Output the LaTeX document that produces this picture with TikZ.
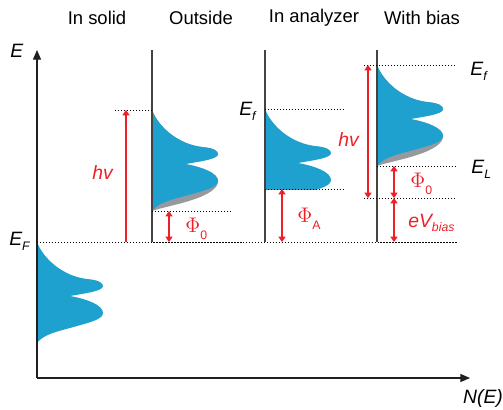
\documentclass[tikz,border=0pt]{standalone}
\usepackage{fontspec}
\setmainfont{Liberation Sans}
\usetikzlibrary{arrows.meta}

\definecolor{dosblue}{RGB}{31,161,207}
\definecolor{dosgray}{RGB}{152,153,156}
\definecolor{levred}{RGB}{237,32,40}
\definecolor{axiscol}{RGB}{35,31,32}
\definecolor{panelcol}{RGB}{70,66,66}
\newcommand{\lowsub}[2][3pt]{\raisebox{-#1}{\fontsize{7}{8}\selectfont #2}}

\begin{document}
\begin{tikzpicture}[x=0.02cm, y=-0.02cm, font=\fontsize{11}{13}\selectfont,
  >={Triangle[length=3pt,width=4pt]},
  axisline/.style={axiscol, line width=0.65pt, -{Triangle[length=5.5pt,width=4.6pt]}},
  panel/.style={panelcol, line width=0.75pt},
  level/.style={dash pattern=on 0.8pt off 0.9pt, line width=0.55pt},
  gap/.style={<->, levred, line width=0.6pt},
  title/.style={font=\fontsize{10.5}{12}\selectfont},
  lab/.style={inner sep=0pt, anchor=base west},
  redlab/.style={lab, text=levred}]
  \useasboundingbox (0,0) rectangle (503,409);
  % density of states, band top at the local origin
  \newcommand{\dosupper}{(0,0) .. controls (6,16) and (25,34) .. (50,37) .. controls (62,38) and (66,41) .. (66,44)
    .. controls (66,49) and (50,51) .. (33,54) .. controls (50,57) and (66,63) .. (66,71)}
  \newcommand{\dostail}{.. controls (66,78) and (50,81) .. (33,86) .. controls (18,90) and (6,93) .. (0,101) -- cycle}
  \newcommand{\graytail}{.. controls (66,78) and (58,84) .. (40,90) .. controls (25,95) and (8,98) .. (0,101) -- cycle}
  \newcommand{\bigphi}{{\fontsize{12}{13}\selectfont$\Phi$}}
  % ---------------------------------------------------------------- column titles
  \node[title] (t-solid) at (97,18) {In solid};
  \node[title] (t-out) at (201,18) {Outside};
  \node[title] (t-ana) at (314,18) {In analyzer};
  \node[title] (t-bias) at (422,18) {With bias};
  % ---------------------------------------------------------------- bands
  \begin{scope}[shift={(37,242)}]
    \fill[dosblue] \dosupper \dostail;
  \end{scope}
  \begin{scope}[shift={(152,110)}]
    \fill[dosgray] \dosupper \graytail;
    \fill[dosblue] \dosupper \dostail;
  \end{scope}
  \begin{scope}[shift={(265,109)}]
    \clip (0,-2) rectangle (80,80);
    \fill[dosblue] \dosupper \dostail;
  \end{scope}
  \begin{scope}[shift={(377,65)}]
    \fill[dosgray] \dosupper \graytail;
    \fill[dosblue] \dosupper \dostail;
  \end{scope}
  % ---------------------------------------------------------------- axes
  \coordinate (origin) at (37,378);
  \coordinate (ytip) at (37,50);
  \coordinate (xtip) at (470,378);
  \draw[axisline] (origin) -- (ytip);
  \draw[axisline] (origin) -- (xtip);
  \node[lab] (E) at (10,57) {\textit{E}};
  \node (NE) at (483,398) {\textit{N(E)}};
  % Fermi level across all columns
  \coordinate (EF) at (37,242);
  \coordinate (EF-end) at (457,242);
  \draw[level] (EF) -- (EF-end);
  \node[lab] (EF-lab) at (9,245) {\textit{E\lowsub{F}}};
  % ---------------------------------------------------------------- outside
  \draw[panel] (152,50) -- (152,242);
  \coordinate (o-vac) at (115,110);
  \coordinate (o-top) at (152,110);
  \coordinate (o-low) at (152,211);
  \coordinate (o-low-end) at (230,211);
  \draw[level] (o-vac) -- (o-top);
  \draw[level] (o-low) -- (o-low-end);
  \coordinate (o-hv-a) at (126,242);
  \coordinate (o-hv-b) at (126,110);
  \draw[->, levred, line width=0.6pt] (o-hv-a) -- (o-hv-b);
  \coordinate (o-phi-a) at (169,211);
  \coordinate (o-phi-b) at (169,242);
  \draw[gap] (o-phi-a) -- (o-phi-b);
  \node[text=levred] (o-hv) at (103,172) {\textit{hv}};
  \node[redlab] (o-phi) at (185,232) {\bigphi\lowsub[4.5pt]{0}};
  % ---------------------------------------------------------------- in analyzer
  \draw[panel] (265,50) -- (265,242);
  \coordinate (a-top) at (265,109);
  \coordinate (a-top-end) at (343,109);
  \coordinate (a-low) at (265,189);
  \coordinate (a-low-end) at (343,189);
  \draw[level] (a-top) -- (a-top-end);
  \draw[level] (a-low) -- (a-low-end);
  \coordinate (a-phi-a) at (282,189);
  \coordinate (a-phi-b) at (282,242);
  \draw[gap] (a-phi-a) -- (a-phi-b);
  \node[lab] (a-Ef) at (239,115) {\textit{E\lowsub{f}}};
  \node[redlab] (a-phi) at (297,222) {\bigphi\lowsub[4pt]{A}};
  % ---------------------------------------------------------------- with bias
  \draw[panel] (377,50) -- (377,242);
  \coordinate (b-top) at (364,65);
  \coordinate (b-top-end) at (456,65);
  \coordinate (b-L) at (377,166);
  \coordinate (b-L-end) at (456,166);
  \coordinate (b-mid) at (364,198);
  \coordinate (b-mid-end) at (456,198);
  \draw[level] (b-top) -- (b-top-end);
  \draw[level] (b-L) -- (b-L-end);
  \draw[level] (b-mid) -- (b-mid-end);
  \coordinate (b-hv-a) at (368,65);
  \coordinate (b-hv-b) at (368,198);
  \draw[gap] (b-hv-a) -- (b-hv-b);
  \coordinate (b-phi-a) at (394,166);
  \coordinate (b-phi-b) at (394,198);
  \coordinate (b-eV-b) at (394,242);
  \draw[gap] (b-phi-a) -- (b-phi-b);
  \draw[gap] (b-phi-b) -- (b-eV-b);
  \node[lab] (b-Ef) at (470,75) {\textit{E\lowsub{f}}};
  \node[lab] (b-EL) at (471,173) {\textit{E\lowsub{L}}};
  \node[text=levred] (b-hv) at (349,139) {\textit{hv}};
  \node[redlab] (b-phi) at (410,187) {\bigphi\lowsub[4.5pt]{0}};
  \node[redlab] (b-eV) at (408,227) {\textit{eV\lowsub[2.8pt]{bias}}};
\end{tikzpicture}
\end{document}
